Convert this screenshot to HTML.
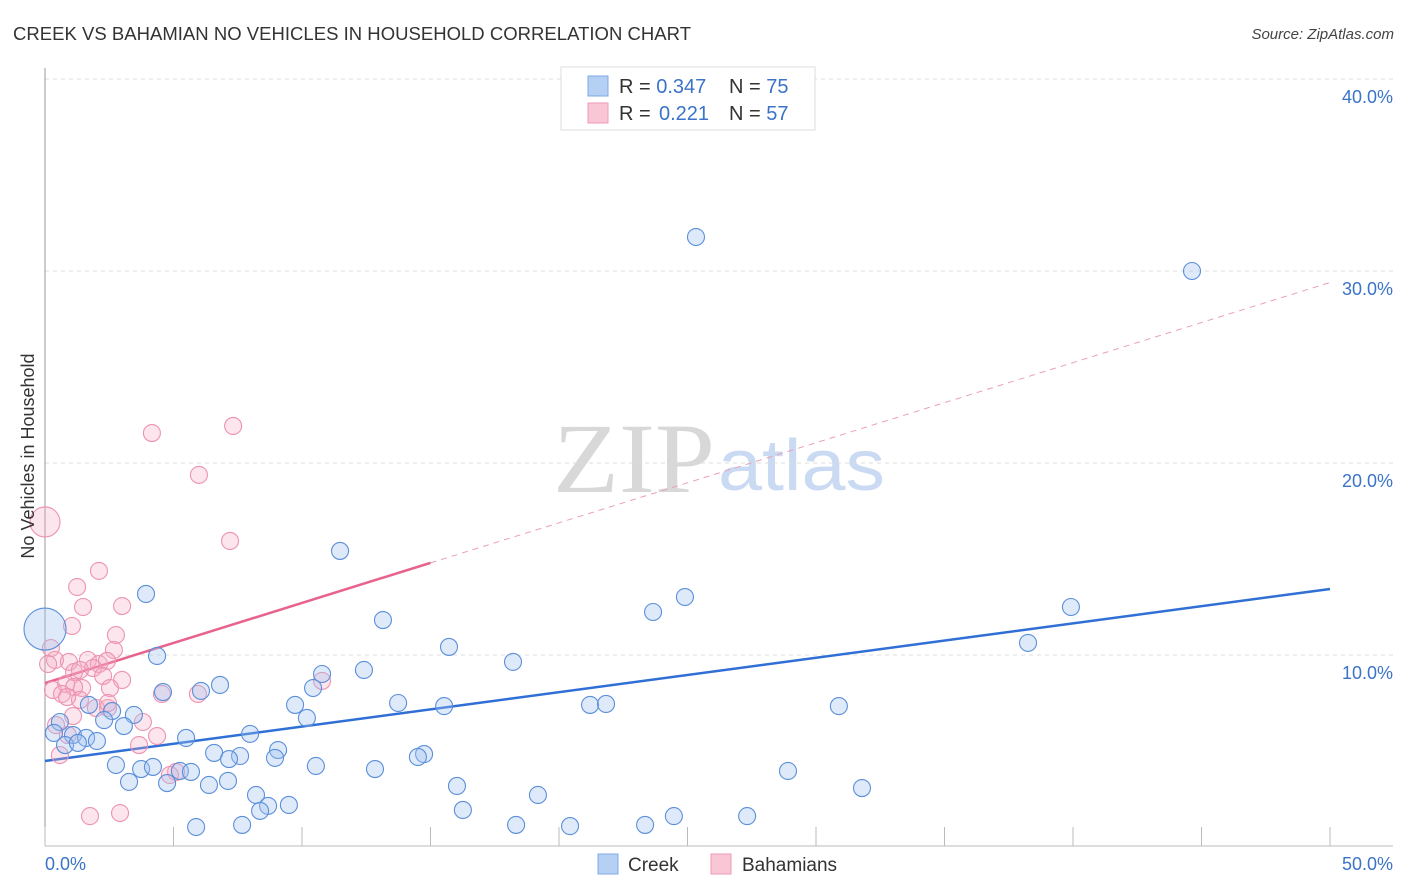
<!DOCTYPE html>
<html><head><meta charset="utf-8"><style>
body{margin:0;background:#fff;font-family:"Liberation Sans",sans-serif;}
svg{display:block}
</style></head><body>
<svg width="1406" height="892" xmlns="http://www.w3.org/2000/svg">
<text x="13" y="40" font-size="18.5" fill="#333" textLength="678">CREEK VS BAHAMIAN NO VEHICLES IN HOUSEHOLD CORRELATION CHART</text>
<text x="1394" y="39" font-size="15" fill="#444" font-style="italic" text-anchor="end">Source: ZipAtlas.com</text>
<g>
<text x="553" y="492" font-family="Liberation Serif,serif" font-size="100" fill="#d8d8d8" textLength="162" lengthAdjust="spacingAndGlyphs">ZIP</text>
<text x="718" y="490" font-size="72" fill="#c9daf2" textLength="167" lengthAdjust="spacingAndGlyphs">atlas</text>
</g>
<g id="grid"></g>
<line x1="45" y1="68" x2="45" y2="846" stroke="#999"/>
<line x1="45" y1="846" x2="1393" y2="846" stroke="#bbb"/>
<g id="xticks"></g>
<g id="trend"></g>
<g id="pts"></g>
<text x="45" y="870" font-size="18" fill="#3b73c8">0.0%</text>
<text x="1393" y="870" font-size="18" fill="#3b73c8" text-anchor="end">50.0%</text>
<text transform="translate(34,456) rotate(-90)" font-size="18" fill="#333" text-anchor="middle">No Vehicles in Household</text>
<g>
<rect x="561" y="67" width="254" height="63" fill="#fff" stroke="#ddd"/>
<rect x="588" y="76" width="20" height="20" fill="#b6d0f3" stroke="#7fa9e4"/>
<rect x="588" y="103" width="20" height="20" fill="#f9c6d5" stroke="#ee9ab4"/>
<text x="619" y="93" font-size="20" fill="#333">R = <tspan fill="#3b73c8">0.347</tspan><tspan x="729">N = </tspan><tspan fill="#3b73c8">75</tspan></text>
<text x="619" y="120" font-size="20" fill="#333">R = <tspan fill="#3b73c8" x="659">0.221</tspan><tspan x="729">N = </tspan><tspan fill="#3b73c8">57</tspan></text>
</g>
<g>
<rect x="598" y="854" width="20" height="20" fill="#b6d0f3" stroke="#7fa9e4"/>
<text x="628" y="871" font-size="19" fill="#333">Creek</text>
<rect x="711" y="854" width="20" height="20" fill="#f9c6d5" stroke="#ee9ab4"/>
<text x="742" y="871" font-size="19" fill="#333">Bahamians</text>
</g>
</svg>
<script>
const yTicks=[10,20,30,40];
const yTickLabels=["10.0%","20.0%","30.0%","40.0%"];
const xTicks=[0,5,10,15,20,25,30,35,40,45,50];
const creekX=[25.33,44.63,11.48,3.93,24.9,23.66,39.92,13.15,38.25,15.72,4.36,18.21,12.41,10.78,10.43,6.81,4.59,6.07,9.73,13.74,15.53,21.21,21.83,30.89,1.71,2.61,2.3,10.19,3.46,3.07,0.58,7.98,5.49,0.35,1.09,1.6,2.02,0.78,1.28,6.58,9.07,7.59,7.16,8.95,14.75,14.51,2.76,3.74,4.2,5.25,5.68,10.54,12.84,28.91,4.75,3.27,6.38,7.12,16.03,31.79,8.21,19.18,8.68,9.49,8.37,16.26,5.88,7.67,18.33,20.43,23.35,24.47,27.32,0];
const creekY=[31.77,30.0,15.42,13.18,13.02,12.24,12.5,11.82,10.63,10.42,9.95,9.64,9.22,9.01,8.28,8.44,8.07,8.13,7.4,7.5,7.34,7.4,7.45,7.34,7.4,7.08,6.61,6.72,6.88,6.3,6.51,5.89,5.68,5.94,5.83,5.68,5.52,5.31,5.42,4.9,5.05,4.74,4.58,4.64,4.84,4.69,4.27,4.06,4.17,3.96,3.91,4.22,4.06,3.96,3.33,3.39,3.23,3.44,3.18,3.07,2.71,2.71,2.14,2.19,1.88,1.93,1.04,1.15,1.15,1.09,1.15,1.61,1.61,11.35];
const bahX=[4.16,7.32,5.99,7.2,0,2.1,1.25,1.48,3.0,1.05,2.76,0.23,2.68,0.39,0.12,0.93,1.67,2.1,2.41,1.13,1.87,1.36,2.26,0.82,1.44,0.31,1.13,3.0,0.66,2.53,4.55,5.95,10.78,1.98,1.09,3.81,2.45,0.43,0.89,4.36,3.66,0.58,5.1,4.86,1.75,2.92,2.45,1.36,0.86];
const bahY=[21.56,21.93,19.38,15.94,16.93,14.38,13.54,12.5,12.55,11.51,11.04,10.36,10.26,9.74,9.53,9.64,9.74,9.53,9.69,9.11,9.32,9.22,8.91,8.49,8.28,8.18,8.33,8.7,7.97,8.28,7.97,7.97,8.65,7.24,6.82,6.51,7.24,6.35,5.83,5.78,5.31,4.79,3.91,3.75,1.61,1.77,7.5,7.66,7.81];
const creekTrend=[4.48,13.44];
const bahTrend=[8.54,29.4];
const bahSolidEnd=15.0;
const NS="http://www.w3.org/2000/svg";
const sx=v=>45+v*25.7, sy=v=>847-v*19.2;
function mk(t,a,p){const e=document.createElementNS(NS,t);for(const k in a)e.setAttribute(k,a[k]);p.appendChild(e);return e;}
const grid=document.getElementById('grid');
yTicks.forEach((t,i)=>{
 const l=mk('line',{x1:45,x2:1393,y1:sy(t),y2:sy(t),stroke:'#ddd','stroke-dasharray':'4,4'},grid);
 
 
 const tx=mk('text',{x:1393,y:sy(t)+24,'font-size':18,fill:'#3b73c8','text-anchor':'end'},grid);
 tx.textContent=yTickLabels[i];
 
 
});
const xt=document.getElementById('xticks');
xTicks.forEach(t=>{
 const l=mk('line',{x1:sx(t),x2:sx(t),y1:827,y2:846,stroke:'#bbb'},xt);
 
 
});
const tr=document.getElementById('trend');
const cl=mk('line',{x1:sx(0),y1:sy(creekTrend[0]),x2:sx(50),y2:sy(creekTrend[1]),stroke:'#2f6fd6','stroke-width':2.5},tr);


const bAt=x=>bahTrend[0]+(bahTrend[1]-bahTrend[0])*x/50;
const bd=mk('line',{x1:sx(bahSolidEnd),y1:sy(bAt(bahSolidEnd)),x2:sx(50),y2:sy(bahTrend[1]),stroke:'#eaa0b8','stroke-width':1,'stroke-dasharray':'6,5'},tr);


const bl=mk('line',{x1:sx(0),y1:sy(bahTrend[0]),x2:sx(bahSolidEnd),y2:sy(bAt(bahSolidEnd)),stroke:'#e8628c','stroke-width':2.5},tr);


const pts=document.getElementById('pts');
bahX.forEach((x,i)=>{
 const r=(x===0&&bahY[i]>16)?15:8.5;
 const c=mk('circle',{cx:sx(x),cy:sy(bahY[i]),r:r,fill:'rgba(246,170,196,0.3)',stroke:'#ec93b0','stroke-width':1.1},pts);
 
 
});
creekX.forEach((x,i)=>{
 const r=(x===0)?21:8.5;
 const c=mk('circle',{cx:sx(x),cy:sy(creekY[i]),r:r,fill:'rgba(160,196,240,0.35)',stroke:'#5b8fd9','stroke-width':1.1},pts);
 
 
});
</script>
</body></html>
